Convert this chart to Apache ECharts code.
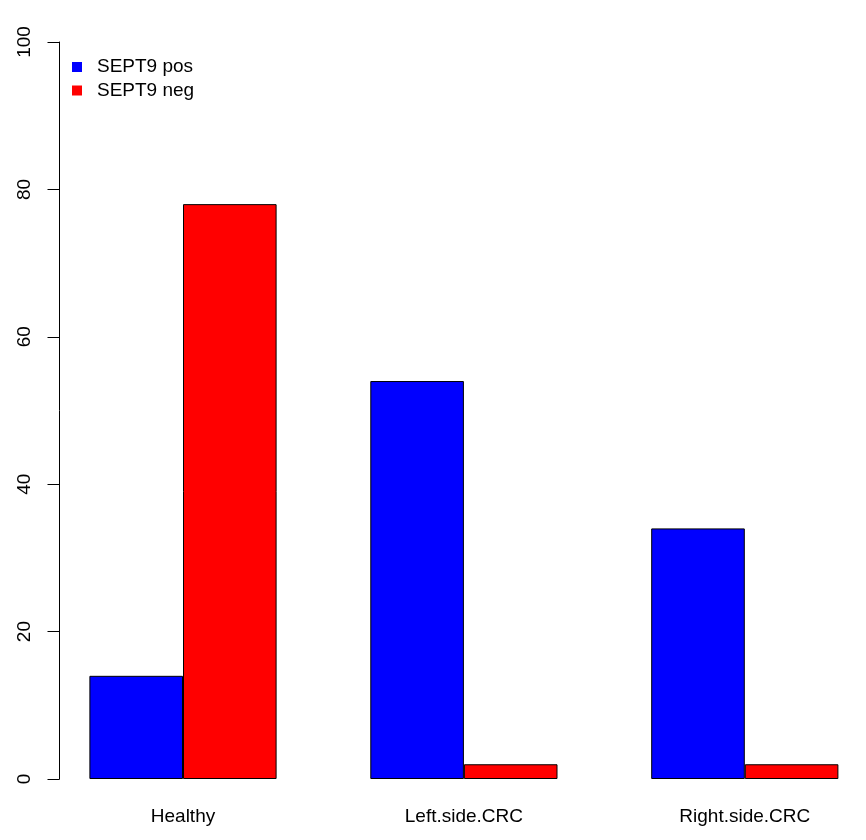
<!DOCTYPE html>
<html>
<head>
<meta charset="utf-8">
<script src="https://cdn.jsdelivr.net/npm/echarts@6/dist/echarts.min.js"></script>
<style>
html,body{margin:0;padding:0;background:#fff;}
#chart{width:866px;height:840px;}
</style>
</head>
<body>
<div id="chart"></div>
<script>
const categories = ['Healthy', 'Left.side.CRC', 'Right.side.CRC'];
const seriesNames = ['SEPT9 pos', 'SEPT9 neg'];
const septPos = [14, 54, 34];
const septNeg = [78, 2, 2];
const yMin = 0, yMax = 100, yStep = 20;

const FONT = '"Liberation Sans", Arial, sans-serif';
// x positions: category index; axis range chosen so the y axis sits left of the first group
const pxPerCat = 280.9;
const gridLeft = 59.5;
const firstCenter = 183;
const xMin = -(firstCenter - gridLeft) / pxPerCat;
const xMax = xMin + (866 - gridLeft) / pxPerCat;

const toPairs = arr => arr.map((v, i) => [i, v]);

const chart = echarts.init(document.getElementById('chart'), null, {renderer: 'canvas'});
chart.setOption({
  animation: false,
  backgroundColor: '#ffffff',
  textStyle: {fontFamily: FONT},
  legend: {
    show: true,
    orient: 'vertical',
    left: 72,
    top: 57.5,
    padding: 0,
    icon: 'rect',
    itemWidth: 10,
    itemHeight: 10,
    itemGap: 4.5,
    itemStyle: {borderWidth: 0},
    data: seriesNames,
    textStyle: {fontFamily: FONT, fontSize: 19, color: '#000', padding: [0, 0, 0, 10]}
  },
  grid: {left: gridLeft, top: 42, right: 0, bottom: 61, containLabel: false},
  xAxis: {
    type: 'value',
    min: xMin,
    max: xMax,
    splitLine: {show: false},
    axisLine: {show: false, onZero: false},
    axisTick: {show: false},
    axisLabel: {
      fontFamily: FONT, fontSize: 19, color: '#000', margin: 28,
      customValues: categories.map((c, i) => i),
      formatter: v => categories[Math.round(v)] || ''
    }
  },
  yAxis: {
    type: 'value',
    min: yMin, max: yMax, interval: yStep,
    splitLine: {show: false},
    axisLine: {show: true, onZero: false, lineStyle: {color: '#000', width: 1}},
    axisTick: {show: true, length: 12, lineStyle: {color: '#000', width: 1}},
    axisLabel: {fontFamily: FONT, fontSize: 19, color: '#000', rotate: 90, margin: 25}
  },
  series: [
    {
      name: seriesNames[0], type: 'bar', data: toPairs(septPos),
      barWidth: 93.6, barGap: '0%',
      itemStyle: {color: '#0000ff', borderColor: '#000', borderWidth: 1}
    },
    {
      name: seriesNames[1], type: 'bar', data: toPairs(septNeg),
      barWidth: 93.6, barGap: '0%',
      itemStyle: {color: '#ff0000', borderColor: '#000', borderWidth: 1}
    }
  ]
});
</script>
</body>
</html>
